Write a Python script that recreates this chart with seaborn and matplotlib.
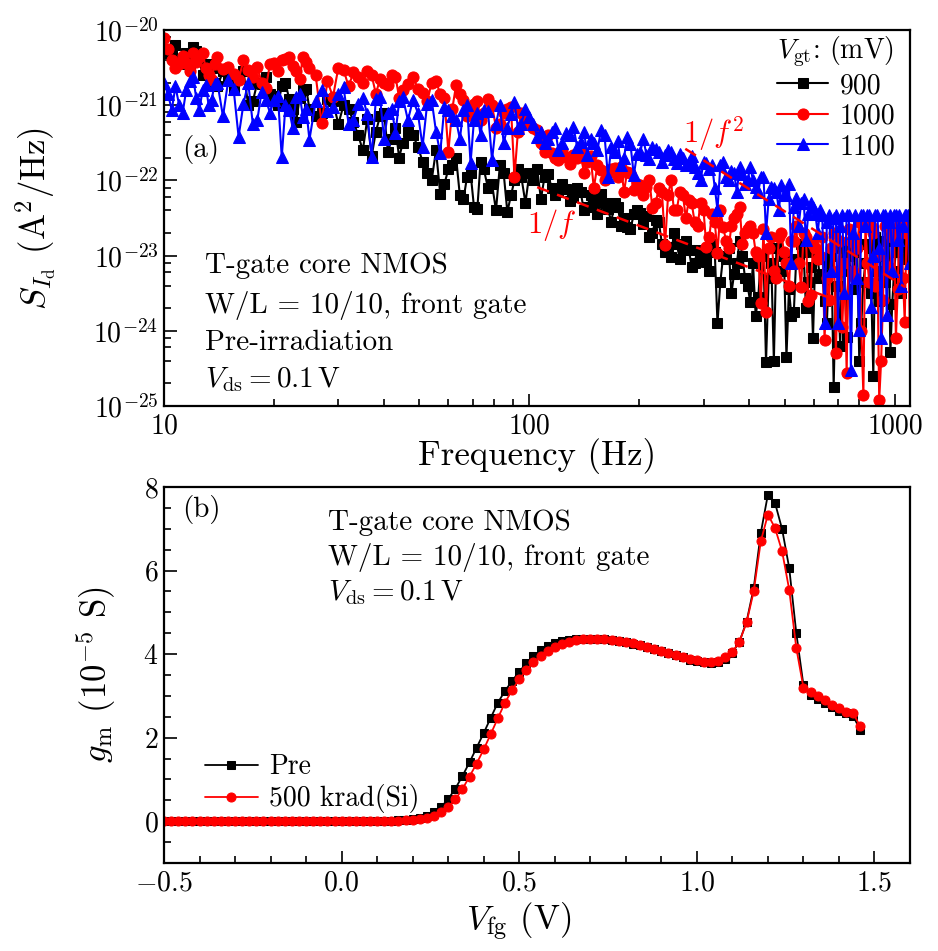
import numpy as np
import pandas as pd
import matplotlib
matplotlib.use("Agg")
import matplotlib.pyplot as plt
import seaborn as sns
from matplotlib.ticker import FuncFormatter, LogLocator, NullFormatter, MultipleLocator, FixedLocator

# ---------------- data: panel (a) noise spectra ----------------
freq = [10, 10.5, 11, 11.5, 12, 12.5, 13, 13.5, 14,
        15, 16, 17, 18, 19, 20, 21, 22, 23, 24, 25,
        27, 29, 31, 33, 35, 37, 39, 41, 43, 45,
        48, 51, 54, 57, 60, 63, 66, 69, 72, 75, 79, 83, 87, 91, 95,
        100, 105, 110, 115, 120, 126, 132, 138, 144, 150, 157, 164, 171, 178, 185, 193, 201, 209, 217, 226,
        235, 244, 253, 263, 273, 283, 294, 305, 316, 327, 339, 351, 363, 376, 389,
        402, 416, 430, 444, 459, 474, 489, 505, 521, 537, 554, 571, 588, 606, 624, 642, 661, 680, 699, 718,
        738, 758, 778, 799, 820, 841, 862, 884, 906, 928, 950, 972, 995, 1018, 1041, 1064, 1087]
freq_b = [10.25, 10.75, 11.25, 11.75, 12.25, 12.75, 13.25, 13.75, 14.5,
          15.5, 16.5, 17.5, 18.5, 19.5, 20.5, 21.5, 22.5, 23.5, 24.5, 26,
          28, 30, 32, 34, 36, 38, 40, 42, 44, 46.5,
          49.5, 52.5, 55.5, 58.5, 61.5, 64.5, 67.5, 70.5, 73.5, 77, 81, 85, 89, 93, 97.5,
          102.5, 107.5, 112.5, 117.5, 123, 129, 135, 141, 147, 153.5, 160.5, 167.5, 174.5, 181.5, 189, 197, 205, 213, 221.5, 230.5,
          239.5, 248.5, 258, 268, 278, 288.5, 299.5, 310.5, 321.5, 333, 345, 357, 369.5, 382.5, 395.5,
          409, 423, 437, 451.5, 466.5, 481.5, 497, 513, 529, 545.5, 562.5, 579.5, 597, 615, 633, 651.5, 670.5, 689.5, 708.5, 728,
          748, 768, 788.5, 809.5, 830.5, 851.5, 873, 895, 917, 939, 961, 983.5, 1006.5, 1029.5, 1052.5, 1075.5, 1098]

# log10 of S_Id (A^2/Hz), read at freq and freq_b
log_s_900 = [-20.25, -20.35, -20.45, -20.30, -20.23, -20.40, -20.55, -20.50, -20.75,
             -20.65, -20.60, -21.00, -20.70, -20.62, -20.88, -20.75, -20.92, -21.22, -20.80, -21.05,
             -21.10, -20.95, -21.00, -21.22, -21.60, -21.68, -21.15, -21.62, -21.30, -21.50,
             -21.40, -21.75, -22.00, -22.18, -21.85, -21.70, -22.25, -21.90, -22.38, -21.85, -22.05, -21.80, -22.42, -22.00, -21.95,
             -21.90, -21.85, -21.95, -22.10, -22.15, -22.12, -22.22, -22.15, -22.35, -22.30, -22.18, -22.38, -22.30, -22.60, -22.62, -22.45, -22.44, -22.48, -22.70, -22.55,
             -22.95, -23.02, -22.85, -22.90, -22.92, -23.10, -22.95, -23.08, -22.85, -23.90, -23.00, -22.90, -23.25, -22.80, -23.30,
             -23.62, -23.80, -23.00, -24.42, -23.10, -22.90, -23.20, -24.35, -23.80, -23.05, -22.85, -23.70, -23.15, -22.95, -23.30, -23.60, -23.10, -24.75, -23.40, -22.90,
             -24.08, -23.20, -22.95, -24.40, -23.35, -22.85, -23.50, -22.75, -23.60, -23.00, -22.80, -24.28, -23.20, -22.75, -23.50, -22.70, -22.90]
log_s_900_b = [-20.30, -20.20, -20.38, -20.50, -20.28, -20.60, -20.45, -20.70, -20.55,
               -20.80, -20.55, -20.95, -20.72, -20.85, -21.00, -20.70, -21.05, -20.90, -20.78, -21.15,
               -20.92, -21.25, -21.05, -21.40, -21.18, -21.35, -21.10, -21.45, -21.70, -21.35,
               -21.55, -21.90, -21.60, -22.05, -21.80, -22.20, -21.95, -22.35, -21.75, -22.10, -22.40, -21.90, -22.20, -21.85, -22.30,
               -22.00, -22.25, -21.92, -22.20, -22.05, -22.28, -22.10, -22.40, -22.20, -22.45, -22.30, -22.55, -22.35, -22.50, -22.65, -22.40, -22.58, -22.75, -22.52, -22.85,
               -22.88, -22.70, -23.05, -22.80, -23.15, -22.92, -23.00, -23.20, -22.95, -23.35, -23.05, -23.50, -23.10, -23.00, -23.40,
               -23.10, -23.55, -23.00, -23.30, -24.40, -23.20, -23.00, -23.45, -23.75, -23.10, -22.95, -23.35, -24.10, -23.05, -23.25, -23.90, -23.00, -23.40, -24.20, -23.15,
               -23.00, -23.45, -22.85, -23.90, -23.10, -22.90, -24.60, -23.20, -22.80, -23.35, -22.70, -23.65, -22.95, -23.30, -22.75, -23.05, -22.62]
log_s_1000 = [-20.10, -20.40, -20.45, -20.44, -20.30, -20.36, -20.50, -20.66, -20.36,
              -20.49, -20.66, -20.53, -20.49, -20.77, -20.44, -20.40, -20.36, -20.55, -20.36, -20.50,
              -21.24, -20.89, -20.53, -20.56, -20.70, -20.60, -20.65, -20.73, -20.62, -20.80,
              -20.62, -20.84, -20.70, -20.85, -21.62, -20.73, -20.93, -21.05, -20.95, -21.10, -21.00, -21.25, -21.05, -21.95, -21.10,
              -21.24, -21.33, -21.62, -21.64, -21.73, -21.69, -21.66, -21.64, -21.75, -22.10, -21.86, -21.90, -21.84, -21.82, -21.89, -22.13, -22.06, -22.09, -22.37, -22.10,
              -22.86, -22.00, -22.39, -22.20, -22.26, -22.55, -22.30, -22.89, -22.45, -22.97, -22.62, -22.90, -22.50, -22.35, -22.70,
              -22.60, -22.95, -23.63, -23.75, -22.75, -23.30, -22.70, -23.10, -22.80, -22.60, -23.42, -22.75, -23.52, -22.90, -23.00, -24.12, -23.59, -22.70, -23.20, -23.95,
              -24.56, -22.80, -23.30, -22.55, -24.85, -23.10, -22.60, -23.40, -24.92, -23.59, -22.55, -23.20, -22.70, -23.45, -22.55, -23.88, -22.55]
log_s_1000_b = [-20.25, -20.50, -20.35, -20.55, -20.42, -20.30, -20.60, -20.45, -20.52,
                -20.58, -20.40, -20.62, -20.70, -20.45, -20.55, -20.38, -20.48, -20.65, -20.42, -20.60,
                -20.68, -20.50, -20.75, -20.62, -20.55, -20.85, -20.70, -20.60, -20.90, -20.72,
                -20.78, -20.95, -20.68, -20.90, -21.05, -20.85, -21.15, -20.98, -21.20, -20.92, -21.30, -21.10, -21.02, -21.35, -21.20,
                -21.30, -21.50, -21.40, -21.70, -21.60, -21.78, -21.70, -21.90, -21.68, -21.80, -22.00, -21.85, -21.95, -22.15, -21.90, -22.05, -22.20, -22.00, -22.30, -22.15,
                -22.20, -22.40, -22.15, -22.50, -22.30, -22.60, -22.40, -22.75, -22.55, -22.40, -22.80, -22.60, -22.45, -22.85, -22.65,
                -22.70, -23.00, -22.65, -22.90, -23.20, -22.75, -22.95, -23.40, -22.80, -23.10, -22.70, -23.60, -22.85, -23.05, -22.75, -23.30, -22.90, -24.30, -22.80, -23.10,
                -22.65, -23.20, -22.90, -24.00, -22.60, -23.35, -22.70, -23.00, -24.40, -22.60, -23.15, -22.75, -24.10, -22.60, -23.30, -22.70, -23.88]
log_s_1100 = [-20.70, -21.06, -21.00, -20.80, -20.62, -21.06, -20.73, -20.93, -20.70,
              -20.66, -21.42, -20.70, -21.20, -20.93, -20.93, -21.69, -21.06, -20.89, -21.16, -21.46,
              -20.80, -21.02, -20.76, -21.20, -20.90, -21.69, -20.89, -21.10, -21.37, -20.89,
              -20.93, -21.55, -20.93, -21.64, -21.06, -21.20, -21.06, -21.77, -21.10, -21.06, -21.73, -21.00, -21.30, -20.96, -21.25,
              -21.16, -21.42, -21.50, -21.35, -21.60, -21.37, -21.29, -21.49, -21.66, -21.50, -21.33, -21.95, -21.62, -21.80, -21.42, -21.93, -21.62, -21.66, -21.55, -21.62,
              -21.66, -21.62, -21.77, -21.70, -21.75, -21.82, -22.00, -21.77, -21.80, -22.39, -21.75, -22.00, -21.90, -21.82, -22.05,
              -21.82, -22.09, -21.95, -22.70, -22.09, -22.15, -22.06, -22.20, -23.10, -22.24, -22.30, -22.79, -22.30, -22.45, -22.39, -23.90, -22.46, -22.50, -23.90, -22.46,
              -22.46, -24.52, -22.46, -23.99, -22.46, -22.46, -23.68, -22.46, -22.90, -22.46, -23.79, -22.46, -22.46, -22.79, -23.40, -22.46, -22.46]
log_s_1100_b = [-20.85, -20.75, -21.10, -20.68, -20.90, -20.80, -21.00, -20.72, -21.15,
                -20.78, -20.98, -21.25, -20.82, -21.10, -20.88, -21.00, -21.30, -20.85, -21.05, -20.95,
                -21.08, -20.85, -21.25, -20.98, -21.12, -20.92, -21.45, -21.05, -20.95, -21.20,
                -21.10, -20.98, -21.35, -21.02, -21.15, -21.45, -21.00, -21.20, -21.40, -21.08, -21.25, -21.50, -21.12, -21.30, -21.05,
                -21.25, -21.35, -21.45, -21.30, -21.50, -21.40, -21.55, -21.35, -21.45, -21.60, -21.40, -21.55, -21.48, -21.70, -21.52, -21.65, -21.45, -21.72, -21.58, -21.75,
                -21.60, -21.72, -21.65, -21.80, -21.68, -21.90, -21.75, -21.85, -22.10, -21.80, -21.95, -21.88, -22.15, -21.92, -22.00,
                -22.00, -22.15, -21.95, -22.25, -22.10, -22.40, -22.20, -22.05, -22.35, -22.60, -22.25, -22.45, -22.35, -22.70, -22.46, -22.55, -23.20, -22.46, -22.60, -23.50,
                -22.46, -22.70, -23.30, -22.46, -22.60, -22.46, -23.00, -22.46, -24.10, -22.46, -22.55, -23.20, -22.46, -22.46, -22.60, -22.46, -23.10]
vgt_levels = ["900", "1000", "1100"]

# guide lines (1/f and 1/f^2) endpoints
fit1_freq = [105, 687]
fit1_log_s = [-22.09, -23.59]
fit2_freq = [267, 1067]
fit2_log_s = [-21.58, -23.42]

# ---------------- data: panel (b) transconductance ----------------
vfg = [-0.50, -0.48, -0.46, -0.44, -0.42, -0.40, -0.38, -0.36, -0.34, -0.32,
       -0.30, -0.28, -0.26, -0.24, -0.22, -0.20, -0.18, -0.16, -0.14, -0.12,
       -0.10, -0.08, -0.06, -0.04, -0.02, 0.00, 0.02, 0.04, 0.06, 0.08,
       0.10, 0.12, 0.14, 0.16, 0.18, 0.20, 0.22, 0.24, 0.26, 0.28,
       0.30, 0.32, 0.34, 0.36, 0.38, 0.40, 0.42, 0.44, 0.46, 0.48,
       0.50, 0.52, 0.54, 0.56, 0.58, 0.60, 0.62, 0.64, 0.66, 0.68,
       0.70, 0.72, 0.74, 0.76, 0.78, 0.80, 0.82, 0.84, 0.86, 0.88,
       0.90, 0.92, 0.94, 0.96, 0.98, 1.00, 1.02, 1.04, 1.06, 1.08,
       1.10, 1.12, 1.14, 1.16, 1.18, 1.20, 1.22, 1.24, 1.26, 1.28,
       1.30, 1.32, 1.34, 1.36, 1.38, 1.40, 1.42, 1.44, 1.46]
gm_pre = [0.00, 0.00, 0.00, 0.00, 0.00, 0.00, 0.00, 0.00, 0.00, 0.00,
          0.00, 0.00, 0.00, 0.00, 0.00, 0.00, 0.00, 0.00, 0.00, 0.00,
          0.00, 0.00, 0.00, 0.00, 0.00, 0.00, 0.00, 0.00, 0.00, 0.00,
          0.00, 0.01, 0.01, 0.02, 0.03, 0.05, 0.08, 0.13, 0.21, 0.34,
          0.53, 0.78, 1.08, 1.41, 1.76, 2.11, 2.48, 2.84, 3.12, 3.36,
          3.58, 3.78, 3.95, 4.09, 4.20, 4.27, 4.31, 4.34, 4.36, 4.37,
          4.37, 4.36, 4.35, 4.33, 4.31, 4.28, 4.25, 4.21, 4.17, 4.12,
          4.07, 4.02, 3.97, 3.92, 3.87, 3.83, 3.80, 3.79, 3.80, 3.88,
          4.03, 4.30, 4.78, 5.58, 6.90, 7.82, 7.62, 6.99, 6.06, 4.50,
          3.26, 3.02, 2.92, 2.84, 2.74, 2.65, 2.58, 2.52, 2.18]
gm_500k = [0.00, 0.00, 0.00, 0.00, 0.00, 0.00, 0.00, 0.00, 0.00, 0.00,
           0.00, 0.00, 0.00, 0.00, 0.00, 0.00, 0.00, 0.00, 0.00, 0.00,
           0.00, 0.00, 0.00, 0.00, 0.00, 0.00, 0.00, 0.00, 0.00, 0.00,
           0.00, 0.00, 0.01, 0.01, 0.02, 0.03, 0.05, 0.08, 0.13, 0.21,
           0.34, 0.52, 0.77, 1.07, 1.38, 1.72, 2.09, 2.47, 2.84, 3.14,
           3.40, 3.62, 3.80, 3.95, 4.07, 4.17, 4.25, 4.30, 4.33, 4.35,
           4.36, 4.36, 4.35, 4.34, 4.32, 4.29, 4.26, 4.22, 4.18, 4.13,
           4.08, 4.03, 3.98, 3.93, 3.89, 3.85, 3.82, 3.81, 3.83, 3.92,
           4.05, 4.30, 4.76, 5.50, 6.70, 7.34, 7.02, 6.46, 5.54, 4.14,
           3.20, 3.10, 2.99, 2.90, 2.79, 2.70, 2.62, 2.58, 2.27]
dose_levels = ["Pre", "500 krad(Si)"]

assert len(log_s_900) == len(freq) == len(log_s_1000) == len(log_s_1100)
assert len(log_s_900_b) == len(freq_b) == len(log_s_1000_b) == len(log_s_1100_b)
assert len(vfg) == len(gm_pre) == len(gm_500k)

# ---------------- style ----------------
sns.set_style("white")
plt.rcParams.update({
    "font.family": ["serif"],
    "font.serif": ["cmr10"],
    "mathtext.fontset": "cm",
    "axes.unicode_minus": False,
    "axes.formatter.use_mathtext": True,
    "axes.edgecolor": "black",
    "axes.linewidth": 1.6,
    "xtick.color": "black",
    "ytick.color": "black",
    "text.color": "black",
    "axes.labelcolor": "black",
})

FS_TICK = 20
FS_LABEL = 25
FS_TEXT = 21
FS_LEG = 20

fig = plt.figure(figsize=(9.38, 9.51), dpi=100)
W, H = 938.0, 951.0
ax1 = fig.add_axes([164 / W, 1 - 406 / H, 746 / W, 376 / H])
ax2 = fig.add_axes([164 / W, 1 - 863 / H, 746 / W, 376 / H])

# ---------------- panel (a) ----------------
ax1.set_xscale("log")
ax1.set_yscale("log")
fa = freq + freq_b
na = len(fa)
df_noise = pd.DataFrame({
    "freq": fa * 3,
    "S": 10.0 ** np.array(log_s_900 + log_s_900_b + log_s_1000 + log_s_1000_b
                          + log_s_1100 + log_s_1100_b),
    "Vgt": ["900"] * na + ["1000"] * na + ["1100"] * na,
})
pal_a = {"900": "black", "1000": "red", "1100": "blue"}
mk_a = {"900": "s", "1000": "o", "1100": "^"}
ms_a = {"900": 7.0, "1000": 8.0, "1100": 8.5}
sns.lineplot(data=df_noise, x="freq", y="S", hue="Vgt", style="Vgt",
             hue_order=vgt_levels, style_order=vgt_levels, palette=pal_a,
             markers=mk_a, dashes=False, estimator=None, sort=True,
             lw=1.5, legend=False, ax=ax1)
for line, lev in zip(ax1.lines[:3], vgt_levels):
    line.set_markeredgecolor(pal_a[lev])
    line.set_markerfacecolor(pal_a[lev])
    line.set_markersize(ms_a[lev])

df_fit = pd.DataFrame({
    "freq": fit1_freq + fit2_freq,
    "S": 10.0 ** np.array(fit1_log_s + fit2_log_s),
    "law": ["1/f", "1/f"] + ["1/f2", "1/f2"],
})
sns.lineplot(data=df_fit, x="freq", y="S", units="law", estimator=None,
             color="red", lw=1.8, legend=False, ax=ax1)
for line in ax1.lines[3:]:
    line.set_linestyle((0, (5, 3.5)))
    line.set_zorder(5)

ax1.set_xlim(10, 1100)
ax1.set_ylim(1e-25, 1e-20)
ax1.xaxis.set_major_locator(FixedLocator([10, 100, 1000]))
ax1.xaxis.set_major_formatter(FuncFormatter(lambda v, p: f"{int(round(v))}"))
ax1.xaxis.set_minor_locator(LogLocator(base=10, subs=np.arange(2, 10)))
ax1.xaxis.set_minor_formatter(NullFormatter())
ax1.yaxis.set_major_locator(LogLocator(base=10, numticks=10))
ax1.yaxis.set_minor_locator(LogLocator(base=10, subs=[2, 4, 6, 8], numticks=10))
ax1.yaxis.set_minor_formatter(NullFormatter())

ax1.set_xlabel("Frequency (Hz)", fontsize=FS_LABEL)
ax1.set_ylabel(r"$S_{I_\mathrm{d}}$ (A$^2$/Hz)", fontsize=FS_LABEL)
ax1.xaxis.set_label_coords(0.5, -0.085)
ax1.yaxis.set_label_coords(-0.142, 0.5)

ax1.text(0.024, 0.681, "(a)", transform=ax1.transAxes, fontsize=FS_TEXT, va="center", ha="left")
ax1.text(0.055, 0.354, "T-gate core NMOS", transform=ax1.transAxes, fontsize=FS_TEXT, va="baseline")
ax1.text(0.055, 0.247, "W/L = 10/10, front gate", transform=ax1.transAxes, fontsize=FS_TEXT, va="baseline")
ax1.text(0.055, 0.149, "Pre-irradiation", transform=ax1.transAxes, fontsize=FS_TEXT, va="baseline")
ax1.text(0.055, 0.051, r"$V_\mathrm{ds}=0.1\,\mathrm{V}$", transform=ax1.transAxes, fontsize=FS_TEXT, va="baseline")
ax1.text(0.487, 0.46, r"$1/f$", transform=ax1.transAxes, fontsize=22, color="red", va="baseline", zorder=6)
ax1.text(0.696, 0.699, r"$1/f^2$", transform=ax1.transAxes, fontsize=22, color="red", va="baseline", zorder=6)

leg1 = ax1.legend(handles=ax1.lines[:3], labels=vgt_levels, title=r"$V_\mathrm{gt}$: (mV)",
                  loc="upper left", bbox_to_anchor=((777 - 164) / 746, (406 - 34) / 376),
                  frameon=False, fontsize=FS_LEG, title_fontsize=FS_LEG,
                  handlelength=1.85, handletextpad=0.4, labelspacing=0.15,
                  borderpad=0, borderaxespad=0, alignment="left")

# ---------------- panel (b) ----------------
m = len(vfg)
df_gm = pd.DataFrame({
    "Vfg": vfg * 2,
    "gm": gm_pre + gm_500k,
    "Dose": ["Pre"] * m + ["500 krad(Si)"] * m,
})
pal_b = {"Pre": "black", "500 krad(Si)": "red"}
mk_b = {"Pre": "s", "500 krad(Si)": "o"}
ms_b = {"Pre": 5.5, "500 krad(Si)": 6.5}
sns.lineplot(data=df_gm, x="Vfg", y="gm", hue="Dose", style="Dose",
             hue_order=dose_levels, style_order=dose_levels, palette=pal_b,
             markers=mk_b, dashes=False, estimator=None, sort=False,
             lw=1.3, legend=False, ax=ax2)
for line, lev in zip(ax2.lines[:2], dose_levels):
    line.set_markeredgecolor(pal_b[lev])
    line.set_markerfacecolor(pal_b[lev])
    line.set_markersize(ms_b[lev])

ax2.set_xlim(-0.5, 1.6)
ax2.set_ylim(-1, 8)
ax2.xaxis.set_major_locator(FixedLocator([-0.5, 0.0, 0.5, 1.0, 1.5]))
ax2.xaxis.set_minor_locator(MultipleLocator(0.1))
ax2.xaxis.set_major_formatter(FuncFormatter(lambda v, p: f"${v:.1f}$"))
ax2.yaxis.set_major_locator(FixedLocator([0, 2, 4, 6, 8]))
ax2.yaxis.set_minor_locator(MultipleLocator(0.5))
ax2.yaxis.set_major_formatter(FuncFormatter(lambda v, p: f"${int(round(v))}$"))

ax2.set_xlabel(r"$V_\mathrm{fg}$ (V)", fontsize=FS_LABEL)
ax2.set_ylabel(r"$g_\mathrm{m}$ (10$^{-5}$ S)", fontsize=FS_LABEL)
ax2.xaxis.set_label_coords((519 - 164) / 746, -0.1)
ax2.yaxis.set_label_coords(-0.062, 0.5)

ax2.text(0.024, 0.939, "(b)", transform=ax2.transAxes, fontsize=FS_TEXT, va="center", ha="left")
ax2.text(0.220, 0.886, "T-gate core NMOS", transform=ax2.transAxes, fontsize=FS_TEXT, va="baseline")
ax2.text(0.220, 0.793, "W/L = 10/10, front gate", transform=ax2.transAxes, fontsize=FS_TEXT, va="baseline")
ax2.text(0.220, 0.699, r"$V_\mathrm{ds}=0.1\,\mathrm{V}$", transform=ax2.transAxes, fontsize=FS_TEXT, va="baseline")

leg2 = ax2.legend(handles=ax2.lines[:2], labels=dose_levels,
                  loc="upper left", bbox_to_anchor=((205 - 164) / 746, (863 - 754) / 376),
                  frameon=False, fontsize=FS_LEG, handlelength=1.9,
                  handletextpad=0.4, labelspacing=0.15, borderpad=0, borderaxespad=0)

for ax in (ax1, ax2):
    ax.tick_params(which="both", direction="in", bottom=True, left=True, top=False, right=False,
                   labelsize=FS_TICK, width=1.2, color="black")
    ax.tick_params(which="major", length=9, pad=5)
    ax.tick_params(which="minor", length=5)
    ax.tick_params(axis="y", which="major", pad=4)
    for sp in ax.spines.values():
        sp.set_visible(True)
        sp.set_color("black")
        sp.set_linewidth(1.6)

fig.savefig("out.png", dpi=100)
